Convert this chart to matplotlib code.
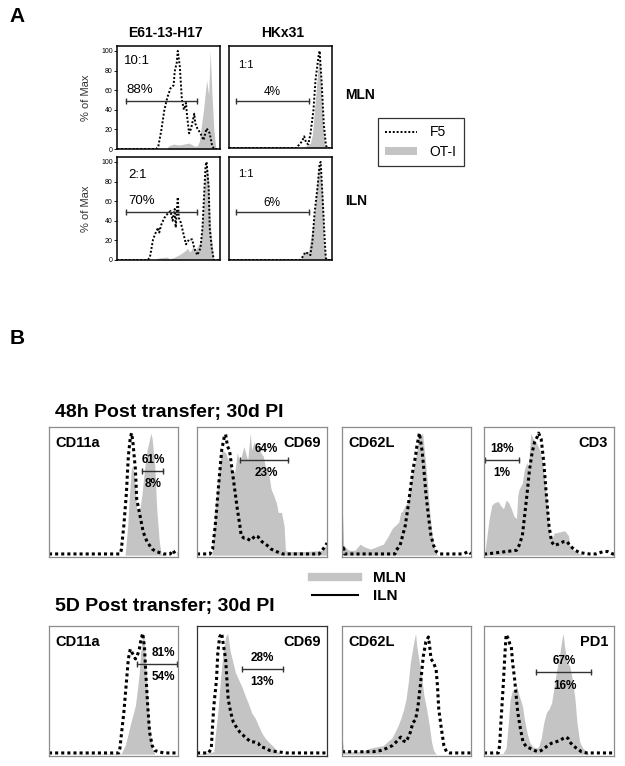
import numpy as np
import matplotlib.pyplot as plt
from matplotlib.lines import Line2D
from matplotlib.patches import Patch

plt.rcParams['font.family'] = ['Liberation Sans', 'DejaVu Sans']

W, H = 625, 766
GREY = '#c4c4c4'

# ---------------- panel A data (channel 0-100, % of max) ----------------
e61_mln_f5_x = [0, 38, 40, 43, 46, 49, 52, 55, 56, 58, 59, 61, 62, 63, 65, 67, 68, 70, 72, 75, 76, 78, 81, 84, 87, 90, 92, 94, 100]
e61_mln_f5_y = [0, 0, 2, 19, 40, 53, 62, 65, 79, 88, 100, 84, 67, 50, 40, 47, 34, 16, 21, 36, 26, 21, 16, 9, 21, 16, 5, 0, 0]
e61_mln_ot1_x = [0, 48, 50, 55, 60, 65, 70, 75, 78, 80, 84, 87, 89, 90.5, 92, 94, 96, 100]
e61_mln_ot1_y = [0, 0, 3, 5, 4, 5, 6, 3, 3, 8, 40, 70, 55, 100, 60, 20, 0, 0]

e61_iln_f5_x = [0, 30, 32, 35, 38, 40, 41, 43, 46, 49, 52, 54, 56, 57, 59, 60, 62, 64, 67, 70, 73, 75, 78, 81, 83, 86, 87, 89, 90, 92, 94, 100]
e61_iln_f5_y = [0, 0, 3, 21, 29, 33, 28, 36, 43, 47, 50, 40, 52, 33, 64, 43, 38, 29, 16, 21, 21, 12, 5, 12, 33, 96, 100, 74, 33, 12, 0, 0]
e61_iln_ot1_x = [0, 37, 40, 49, 51, 56, 60, 63, 67, 68, 71, 74, 76, 81, 83, 85, 87, 89, 91, 94, 100]
e61_iln_ot1_y = [0, 0, 2, 3, 1, 3, 5, 7, 10, 12, 8, 14, 10, 18, 40, 80, 100, 80, 30, 0, 0]

hk_mln_f5_x = [0, 66, 67, 71, 73, 75, 77, 79, 82, 84, 87, 88, 90, 92, 94, 95, 100]
hk_mln_f5_y = [0, 0, 2, 7, 12, 5, 4, 14, 39, 70, 95, 100, 67, 25, 4, 0, 0]
hk_mln_ot1_x = [0, 74, 76, 79, 81, 83, 86, 88, 89, 91, 93, 94, 100]
hk_mln_ot1_y = [0, 0, 4, 5, 14, 39, 77, 98, 74, 28, 4, 0, 0]

hk_iln_f5_x = [0, 69, 72, 74, 76, 79, 81, 83, 86, 88, 89, 91, 93, 94, 95, 100]
hk_iln_f5_y = [0, 0, 4, 8, 7, 5, 19, 47, 75, 98, 100, 61, 19, 2, 0, 0]
hk_iln_ot1_x = [0, 69, 71, 74, 77, 80, 83, 85, 87, 89, 91, 92, 94, 100]
hk_iln_ot1_y = [0, 0, 4, 9, 8, 26, 47, 72, 98, 93, 61, 19, 2, 0]

a_ratios = ['10:1', '2:1', '1:1', '1:1']
a_pcts = ['88%', '70%', '4%', '6%']
a_gates = [(9, 78), (9, 78), (7, 78), (7, 78)]
a_gate_y = [49, 49, 48, 49]

# ---------------- panel B data: 48h post transfer ----------------
cd11a_48_mln_x = [0, 59, 61, 62, 64, 66, 68, 70, 72, 74, 76, 78, 79, 80, 82, 83.5, 85.5, 87, 89, 100]
cd11a_48_mln_y = [0, 0, 24, 43, 73, 68, 38, 35, 49, 70, 86, 95, 100, 95, 73, 38, 11, 1, 0, 0]
cd11a_48_iln_x = [0, 55, 56, 58, 60, 61.5, 63, 64, 65, 67, 68, 71, 73, 76, 80, 83, 89, 94, 96, 98, 100]
cd11a_48_iln_y = [1, 1, 4, 24, 51, 81, 96, 100, 93, 70, 46, 30, 19, 11, 5, 3, 1, 1, 4, 1, 1]

cd69_48_mln_x = [0, 11.5, 14, 17, 19, 22, 24, 27, 29, 31, 33, 36, 39, 41, 42, 44, 46, 47, 49, 51, 53, 55, 57, 59, 61, 62.5, 65, 67, 68, 70, 84, 97, 99, 100]
cd69_48_mln_y = [0, 0, 38, 70, 86, 84, 78, 70, 68, 84, 76, 89, 78, 100, 86, 93, 86, 92, 84, 81, 70, 68, 54, 49, 43, 35, 35, 24, 4, 3, 3, 4, 8, 8]
cd69_48_iln_x = [0, 10, 12, 14, 17, 19, 21, 22, 23.5, 25, 27, 29, 31, 33, 34, 36, 38, 41, 45, 47, 50, 54, 57, 61, 66, 74, 84, 94, 97, 99, 100]
cd69_48_iln_y = [1, 1, 5, 24, 62, 86, 97, 99, 89, 86, 70, 54, 38, 24, 16, 14, 14, 12, 16, 15, 11, 8, 5, 3, 1, 1, 1, 1, 5, 8, 10]

cd62l_48_mln_x = [0, 0.5, 1.3, 4, 6, 10, 14, 17, 22, 27, 32, 36, 39, 41, 44, 45.5, 47, 49, 51, 54, 57, 59, 62.5, 64, 66, 68, 70, 72, 74, 100]
cd62l_48_mln_y = [32, 32, 8, 5, 4, 4, 9, 7, 5, 7, 9, 16, 22, 24, 27, 35, 36, 41, 43, 65, 78, 95, 100, 84, 62, 36, 14, 4, 0, 0]
cd62l_48_iln_x = [0, 1, 2, 41, 42, 45, 47, 49, 51, 53, 55, 57, 58, 60, 62, 63.5, 65, 67, 69, 71, 73, 76, 84, 94, 98, 100]
cd62l_48_iln_y = [5, 8, 1, 1, 4, 8, 16, 24, 38, 54, 70, 81, 89, 100, 86, 70, 51, 32, 16, 8, 3, 1, 1, 1, 3, 1]

cd3_48_mln_x = [0, 0.5, 4, 6, 8, 11, 12.5, 15, 17, 19, 21, 23, 25, 26, 27, 29.5, 31, 33, 34, 36, 38, 40, 43, 45, 48, 50.5, 52.5, 54, 58, 62, 65, 66, 70, 74, 76, 100]
cd3_48_mln_y = [0, 1, 30, 41, 43, 44, 41, 38, 45, 43, 38, 32, 30, 49, 54, 59, 70, 76, 70, 100, 95, 93, 86, 76, 49, 16, 14, 18, 19, 20, 16, 8, 3, 1, 0, 0]
cd3_48_iln_x = [0, 2, 25, 27, 29.5, 31, 33, 35, 37, 39, 41, 42, 44, 46, 48, 50, 52, 54, 57, 61, 64, 66, 70, 74, 81, 86, 92, 95, 99, 100]
cd3_48_iln_y = [1, 1, 4, 8, 16, 30, 49, 70, 84, 93, 97, 100, 95, 76, 49, 24, 11, 8, 9, 11, 11, 8, 4, 2, 1, 1, 3, 3, 1, 1]

markers_48 = ['CD11a', 'CD69', 'CD62L', 'CD3']
gates_48 = [(72, 88), (33, 70), None, (0.5, 27)]
gate_y_48 = [69, 78, None, 78]
pct_48_mln = ['61%', '64%', None, '18%']
pct_48_iln = ['8%', '23%', None, '1%']

# ---------------- panel B data: 5D post transfer ----------------
cd11a_5d_mln_x = [0, 56, 59, 61, 63, 65, 67, 68.5, 70, 71, 72.6, 73.6, 75, 76.5, 78, 80, 82, 100]
cd11a_5d_mln_y = [0, 0.5, 7, 15, 24, 32, 40, 53, 67, 83, 96, 98, 72, 48, 21, 5, 0, 0]
cd11a_5d_iln_x = [0, 54, 55, 56, 58, 60, 61.5, 63, 65, 67, 68.5, 70, 71, 72.6, 74, 75, 76.5, 78, 80, 82, 85, 89, 100]
cd11a_5d_iln_y = [1, 1, 5, 15, 34, 59, 78, 86, 82, 78, 81, 86, 92, 99, 88, 67, 40, 18, 7, 3, 2, 1, 1]

cd69_5d_mln_x = [0, 13, 14, 16, 18, 20, 22, 23.6, 25.6, 27.7, 29.5, 32, 34.6, 37, 39.7, 42, 45, 47, 50, 52.5, 55, 59, 62, 64, 100]
cd69_5d_mln_y = [0, 2, 15, 34, 61, 83, 96, 99, 84, 75, 67, 61, 55, 48, 41, 34, 29, 24, 17, 13, 10, 6, 2, 0, 0]
cd69_5d_iln_x = [0, 9, 11, 12, 13, 15, 16, 17.4, 19, 20.5, 22, 23, 24, 26, 28, 31, 33, 36, 38, 41.5, 44, 47, 49, 52.5, 56, 61.5, 69, 100]
cd69_5d_iln_y = [1, 1, 5, 24, 40, 61, 83, 96, 99, 88, 78, 61, 45, 34, 26, 21, 18, 15, 13, 10, 10, 9, 6, 5, 3, 2, 1, 1]

cd62l_5d_mln_x = [0, 0.5, 1.3, 6, 11.6, 17, 22, 27, 32, 36, 38.6, 41, 43.7, 45.5, 47.6, 49.6, 51.4, 53, 55, 57, 58, 60, 62, 63.5, 65.6, 67.6, 69.4, 71, 73, 100]
cd62l_5d_mln_y = [10, 10, 2, 2, 2, 3, 5, 6, 7, 11, 13, 18, 24, 29, 36, 45, 59, 75, 88, 99, 88, 75, 61, 48, 37, 24, 10, 3, 0, 0]
cd62l_5d_iln_x = [0, 19, 20.5, 24, 30, 35, 39, 42, 45.5, 47.6, 49.6, 51, 53, 55, 57, 59, 61, 63, 65, 67, 68, 69, 71, 73, 74, 75, 77, 79, 81, 83.5, 100]
cd62l_5d_iln_y = [2, 2, 2, 2, 3, 5, 7, 10, 14, 11, 10, 13, 18, 26, 28, 40, 59, 80, 92, 96, 88, 78, 75, 69, 56, 37, 21, 7, 2, 1, 1]

pd1_5d_mln_x = [0, 14.6, 17, 19, 20, 22, 23.6, 25, 27, 29.5, 31, 33, 35, 37.7, 40, 42, 44, 46, 48, 50, 52, 53.6, 55.6, 57.7, 59.5, 60.8, 62, 64, 66, 68, 70, 71.5, 73.6, 76, 79, 81, 100]
pd1_5d_mln_y = [0, 0.5, 5, 29, 44, 53, 51, 56, 48, 40, 29, 18, 10, 6, 5, 6, 13, 26, 34, 37, 42, 53, 67, 78, 91, 99, 88, 75, 72, 61, 45, 26, 10, 5, 2, 0, 0]
pd1_5d_iln_x = [0, 11, 12, 13, 14.6, 16, 17, 18.5, 20, 21, 22, 23.6, 25, 26, 28, 30, 32.6, 35, 39, 41.5, 44, 46.7, 49, 52, 55, 58, 61, 63, 64.6, 66, 68.5, 71, 75, 79, 99, 100]
pd1_5d_iln_y = [1, 1, 7, 26, 53, 80, 98, 95, 90, 88, 75, 61, 45, 34, 21, 10, 6, 5, 3, 2, 3, 5, 7, 9, 10, 11, 13, 14, 13, 10, 7, 5, 2, 1, 1, 1]

markers_5d = ['CD11a', 'CD69', 'CD62L', 'PD1']
gates_5d = [(68.5, 99.5), (34.6, 66), None, (40, 82.6)]
gate_y_5d = [74, 70, None, 67]
pct_5d_mln = ['81%', '28%', None, '67%']
pct_5d_iln = ['54%', '13%', None, '16%']
pct_5d_text_x = [89, 50, None, 62]


fig = plt.figure(figsize=(W / 100, H / 100), dpi=100)


def px_axes(x0, y0, x1, y1):
    return fig.add_axes([x0 / W, 1 - y1 / H, (x1 - x0) / W, (y1 - y0) / H])


def hist(ax, fx, fy, dx, dy, lw):
    ax.fill_between(fx, fy, 0, color=GREY, lw=0)
    ax.plot(dx, dy, color='black', lw=lw, linestyle=(0, (1, 1)))
    ax.set_xlim(0, 100)
    ax.set_xticks([])


# ---------------- panel A ----------------
fig.text(9 / W, 1 - 17 / H, 'A', fontsize=15, fontweight='bold', va='center')

a_boxes = [(117, 46, 220, 149), (117, 157, 220, 260), (229, 46, 332, 148), (229, 157, 332, 260)]
a_data = [(e61_mln_ot1_x, e61_mln_ot1_y, e61_mln_f5_x, e61_mln_f5_y),
          (e61_iln_ot1_x, e61_iln_ot1_y, e61_iln_f5_x, e61_iln_f5_y),
          (hk_mln_ot1_x, hk_mln_ot1_y, hk_mln_f5_x, hk_mln_f5_y),
          (hk_iln_ot1_x, hk_iln_ot1_y, hk_iln_f5_x, hk_iln_f5_y)]
ratio_pos = [(7, 90, 9.5), (11, 87, 9.5), (9, 85, 8), (9, 88, 8)]
pct_pos = [(22, 60, 9.5), (24, 60, 9.5), (42, 58, 8.5), (42, 58, 8.5)]

for i, box in enumerate(a_boxes):
    ax = px_axes(*box)
    hist(ax, *a_data[i], lw=1.4)
    ax.set_ylim(0, 105)
    for s in ax.spines.values():
        s.set_linewidth(1.1)
    if i < 2:
        ax.set_yticks([0, 20, 40, 60, 80, 100])
        ax.tick_params(axis='y', labelsize=5, length=2, width=0.6, pad=1)
        ax.set_ylabel('% of Max', fontsize=8, color='#333333', labelpad=7)
    else:
        ax.set_yticks([])
    rx, ry, rs = ratio_pos[i]
    ax.text(rx, ry, a_ratios[i], fontsize=rs, ha='left', va='center')
    px_, py_, ps = pct_pos[i]
    ax.text(px_, py_, a_pcts[i], fontsize=ps, ha='center', va='center')
    g0, g1 = a_gates[i]
    ax.plot([g0, g1], [a_gate_y[i]] * 2, color='#333333', lw=1.0,
            marker='|', markersize=4, markeredgewidth=1.0)

fig.text(165 / W, 1 - 33 / H, 'E61-13-H17', fontsize=10, fontweight='bold', ha='center', va='center')
fig.text(283 / W, 1 - 33 / H, 'HKx31', fontsize=10, fontweight='bold', ha='center', va='center')
fig.text(345 / W, 1 - 95 / H, 'MLN', fontsize=10, fontweight='bold', va='center')
fig.text(345 / W, 1 - 201 / H, 'ILN', fontsize=10, fontweight='bold', va='center')

leg_a = fig.legend(handles=[Line2D([], [], color='black', lw=1.4, linestyle=(0, (1, 1))),
                            Patch(facecolor=GREY, edgecolor='none')],
                   labels=['F5', 'OT-I'], loc='center', bbox_to_anchor=(421 / W, 1 - 142 / H),
                   fontsize=10, frameon=True, fancybox=False, handlelength=2.3,
                   handleheight=0.5, borderpad=0.55, labelspacing=0.4, handletextpad=0.9)
leg_a.get_frame().set_edgecolor('black')
leg_a.get_frame().set_linewidth(0.9)

# ---------------- panel B ----------------
fig.text(10 / W, 1 - 338 / H, 'B', fontsize=15, fontweight='bold', va='center')
fig.text(55 / W, 1 - 412 / H, '48h Post transfer; 30d PI', fontsize=14, fontweight='bold', va='center')
fig.text(55 / W, 1 - 607 / H, '5D Post transfer; 30d PI', fontsize=14, fontweight='bold', va='center')

b_cols = [(49, 178), (197, 327), (342, 471), (484, 614)]
rows = [
    (427, 557, markers_48,
     [(cd11a_48_mln_x, cd11a_48_mln_y, cd11a_48_iln_x, cd11a_48_iln_y),
      (cd69_48_mln_x, cd69_48_mln_y, cd69_48_iln_x, cd69_48_iln_y),
      (cd62l_48_mln_x, cd62l_48_mln_y, cd62l_48_iln_x, cd62l_48_iln_y),
      (cd3_48_mln_x, cd3_48_mln_y, cd3_48_iln_x, cd3_48_iln_y)],
     gates_48, gate_y_48, pct_48_mln, pct_48_iln, [81, 53, None, 14]),
    (626, 756, markers_5d,
     [(cd11a_5d_mln_x, cd11a_5d_mln_y, cd11a_5d_iln_x, cd11a_5d_iln_y),
      (cd69_5d_mln_x, cd69_5d_mln_y, cd69_5d_iln_x, cd69_5d_iln_y),
      (cd62l_5d_mln_x, cd62l_5d_mln_y, cd62l_5d_iln_x, cd62l_5d_iln_y),
      (pd1_5d_mln_x, pd1_5d_mln_y, pd1_5d_iln_x, pd1_5d_iln_y)],
     gates_5d, gate_y_5d, pct_5d_mln, pct_5d_iln, pct_5d_text_x),
]

for r, (top, bot, names, data, gates, gy, pm, pi, tx) in enumerate(rows):
    for c, (x0, x1) in enumerate(b_cols):
        ax = px_axes(x0, top, x1, bot)
        hist(ax, *data[c], lw=2.2)
        ax.set_ylim(-1.5, 105)
        ax.set_yticks([])
        edge = '#333333' if (r == 1 and c == 1) else '#8c8c8c'
        for s in ax.spines.values():
            s.set_color(edge)
            s.set_linewidth(0.9)
        if c in (0, 2):
            ax.text(5, 92, names[c], fontsize=10.5, fontweight='bold', ha='left', va='center')
        else:
            ax.text(95.5, 92, names[c], fontsize=10.5, fontweight='bold', ha='right', va='center')
        if gates[c] is not None:
            g0, g1 = gates[c]
            ax.plot([g0, g1], [gy[c]] * 2, color='#333333', lw=1.0,
                    marker='|', markersize=4, markeredgewidth=1.0)
            ax.text(tx[c], gy[c] + 9, pm[c], fontsize=8.5, fontweight='bold', ha='center', va='center')
            ax.text(tx[c], gy[c] - 11, pi[c], fontsize=8.5, fontweight='bold', ha='center', va='center')

fig.legend(handles=[Line2D([], [], color=GREY, lw=6), Line2D([], [], color='black', lw=1.5)],
           labels=['MLN', 'ILN'], loc='center left', bbox_to_anchor=(301 / W, 1 - 587 / H),
           frameon=False, prop={'size': 11, 'weight': 'bold'}, handlelength=3.0,
           labelspacing=0.25, handletextpad=1.0, borderpad=0.2)

fig.savefig('out.png', dpi=100)
